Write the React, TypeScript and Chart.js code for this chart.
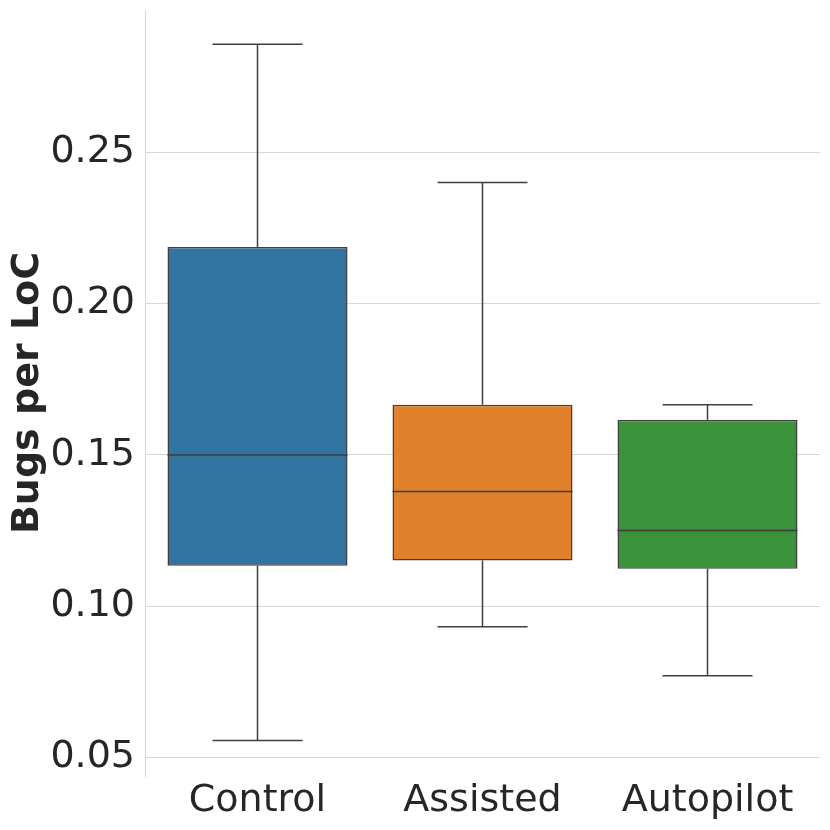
import React, { useEffect, useRef } from 'react';
import Chart from 'chart.js/auto';

const groups = ['Control', 'Assisted', 'Autopilot'];
const whiskerLow = [0.0556, 0.0932, 0.077];
const q1 = [0.1134, 0.1151, 0.1124];
const medians = [0.15, 0.1379, 0.125];
const q3 = [0.2187, 0.1666, 0.1616];
const whiskerHigh = [0.2857, 0.24, 0.1666];
const yTicks = [0.05, 0.1, 0.15, 0.2, 0.25];
const boxColors = ['#3274a1', '#e1812c', '#3a923a'];

const LINE = '#3f3f3f';
const TEXT = '#262626';
const GRID = '#d6d6d6';

const boxPlugin = {
  id: 'boxWhiskers',
  afterDatasetsDraw(chart: any) {
    const ctx = chart.ctx;
    const y = chart.scales.y;
    const meta = chart.getDatasetMeta(0);
    ctx.save();
    ctx.strokeStyle = LINE;
    ctx.lineWidth = 1.5;
    meta.data.forEach((bar: any, i: number) => {
      const cx = bar.x;
      const half = bar.width / 2;
      const cap = half / 2;
      const yLo = y.getPixelForValue(whiskerLow[i]);
      const yQ1 = y.getPixelForValue(q1[i]);
      const yMed = y.getPixelForValue(medians[i]);
      const yQ3 = y.getPixelForValue(q3[i]);
      const yHi = y.getPixelForValue(whiskerHigh[i]);
      ctx.beginPath();
      // whiskers
      ctx.moveTo(cx, yQ3);
      ctx.lineTo(cx, yHi);
      ctx.moveTo(cx, yQ1);
      ctx.lineTo(cx, yLo);
      // caps
      ctx.moveTo(cx - cap, yHi);
      ctx.lineTo(cx + cap, yHi);
      ctx.moveTo(cx - cap, yLo);
      ctx.lineTo(cx + cap, yLo);
      // median
      ctx.moveTo(cx - half, yMed);
      ctx.lineTo(cx + half, yMed);
      ctx.stroke();
    });
    ctx.restore();
  },
};

const App: React.FC = () => {
  const canvasRef = useRef<HTMLCanvasElement | null>(null);

  useEffect(() => {
    document.body.style.margin = '0';
    const ctx = canvasRef.current?.getContext('2d');
    if (!ctx) return;

    const chart = new Chart(ctx, {
      type: 'bar',
      data: {
        labels: groups,
        datasets: [
          {
            data: groups.map((_, i) => [q1[i], q3[i]]),
            backgroundColor: boxColors,
            borderColor: LINE,
            borderWidth: 1.5,
            borderSkipped: false,
            categoryPercentage: 0.8,
            barPercentage: 1,
          },
        ],
      },
      options: {
        responsive: true,
        maintainAspectRatio: false,
        animation: false,
        layout: { padding: { top: 10, right: 10, left: 0, bottom: 5 } },
        plugins: {
          legend: { display: false },
          tooltip: { enabled: false },
        },
        scales: {
          x: {
            grid: { display: false, drawTicks: false },
            border: { display: false },
            ticks: {
              color: TEXT,
              padding: 2,
              font: { family: 'DejaVu Sans', size: 38 },
            },
            afterFit: (scale: any) => {
              scale.height = 49;
            },
          },
          y: {
            min: 0.0439,
            max: 0.297,
            afterFit: (scale: any) => {
              scale.width = 145;
              scale.paddingTop = 0;
              scale.paddingBottom = 0;
            },
            afterBuildTicks: (scale: any) => {
              scale.ticks = yTicks.map((v) => ({ value: v }));
            },
            grid: { color: GRID, lineWidth: 1, drawTicks: false },
            border: { display: true, color: GRID, width: 1 },
            ticks: {
              color: TEXT,
              padding: 10,
              font: { family: 'DejaVu Sans', size: 38 },
              callback: (value: any) => Number(value).toFixed(2),
            },
            title: {
              display: true,
              text: 'Bugs per LoC',
              color: TEXT,
              font: { family: 'DejaVu Sans', size: 38, weight: 'bold' },
              padding: { top: 5, bottom: 2 },
            },
          },
        },
      },
      plugins: [boxPlugin],
    });

    return () => {
      chart.destroy();
    };
  }, []);

  return (
    <div style={{ width: 830, height: 830, position: 'relative' }}>
      <canvas ref={canvasRef}></canvas>
    </div>
  );
};

export default App;
